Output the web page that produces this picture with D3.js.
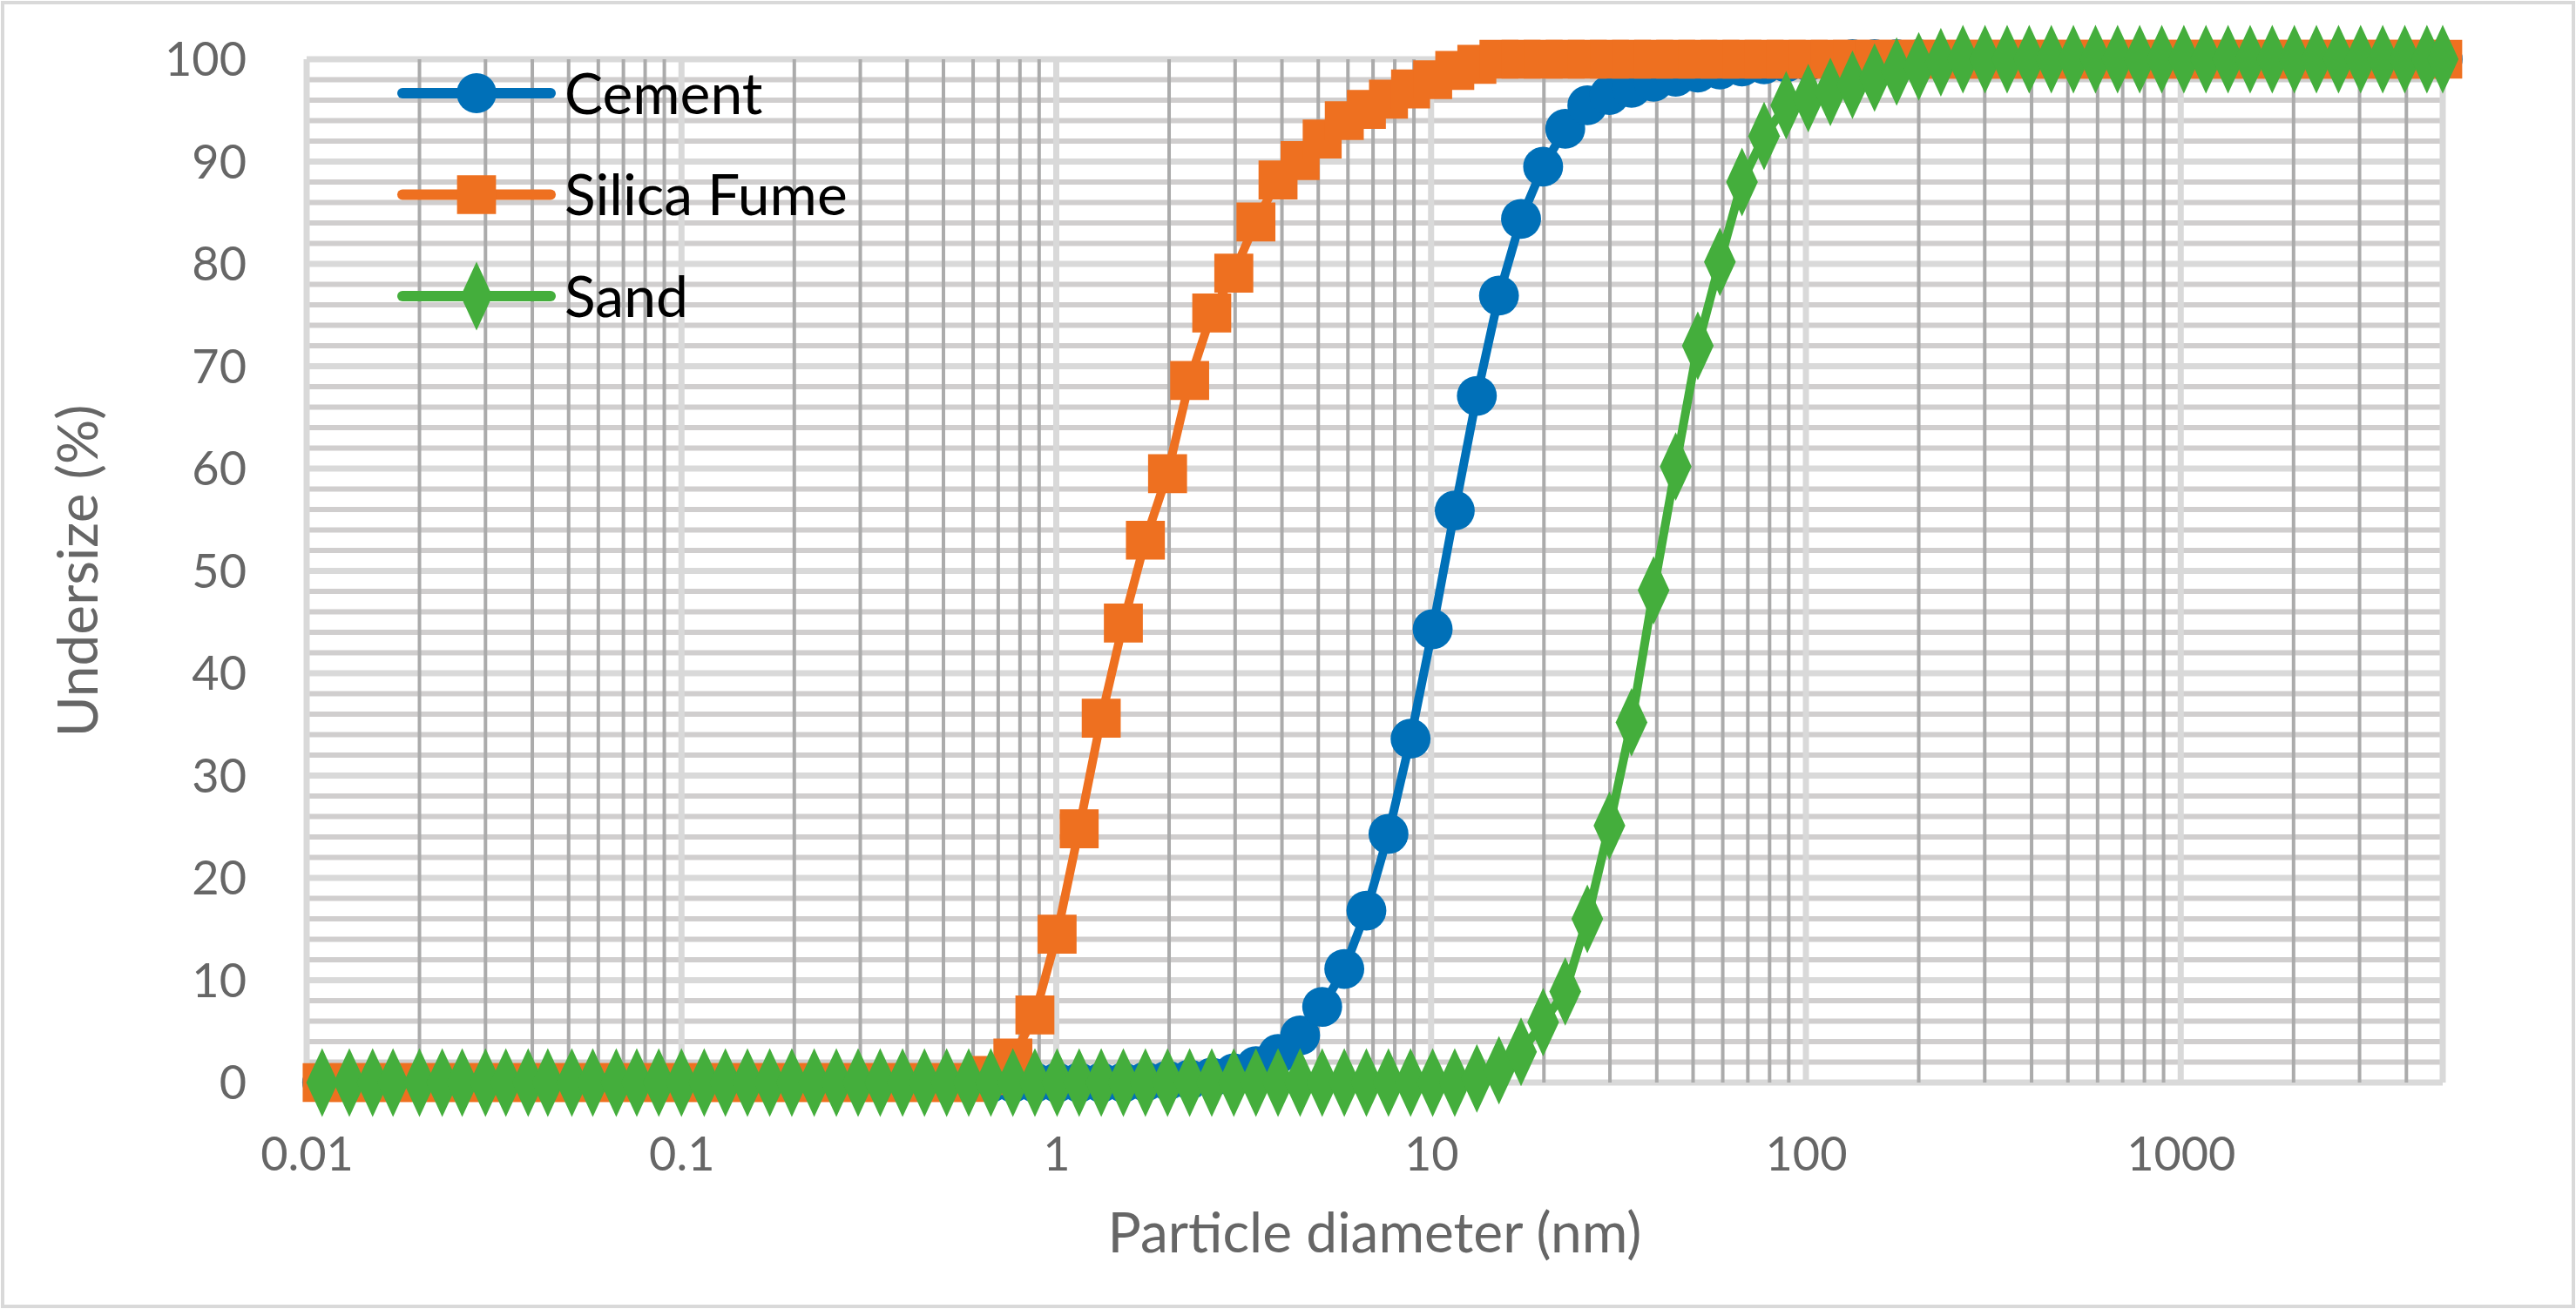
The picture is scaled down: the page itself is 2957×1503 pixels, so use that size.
<!DOCTYPE html>
<html><head><meta charset="utf-8">
<script src="https://cdn.jsdelivr.net/npm/d3@7"></script>
<style>html,body{margin:0;padding:0;background:#fff;}svg{display:block;}</style>
</head><body>
<svg id="c" width="2957" height="1503"></svg>
<script>
const diameters = [0.011,0.013,0.015,0.017,0.020,0.023,0.026,0.030,0.034,0.039,
0.044,0.051,0.058,0.067,0.076,0.087,0.100,0.115,0.131,0.150,
0.172,0.197,0.226,0.259,0.296,0.339,0.389,0.445,0.510,0.584,
0.669,0.766,0.877,1.005,1.151,1.318,1.510,1.729,1.981,2.269,
2.599,2.976,3.409,3.905,4.472,5.122,5.867,6.720,7.697,8.816,
10.097,11.565,13.246,15.172,17.377,19.904,22.797,26.111,29.907,34.255,
39.234,44.938,51.471,58.953,67.523,77.339,88.583,101.46,116.21,133.10,
152.45,174.62,200.00,229.08,262.38,300.52,344.21,394.24,451.56,517.20,
592.39,678.50,777.14,890.12,1019.5,1167.7,1337.5,1531.9,1754.6,2009.7,
2301.8,2636.5,3019.7,3458.7,3961.5,4537.4,5000];
const cement = [0,0,0,0,0,0,0,0,0,0, 0,0,0,0,0,0,0,0,0,0, 0,0,0,0,0,0,0,0,0,0, 0,0,0,0,0,0,0,
0.1,0.2,0.3,0.5,0.9,1.6,2.8,4.6,7.4,11.1,16.8,24.3,33.6,44.3,55.9,67.1,76.9,84.4,89.5,93.2,95.5,96.5,97.2,97.8,98.3,98.7,99.0,99.3,99.5,99.7,99.8,99.9,
100,100,100,100,100,100,100,100,100,100, 100,100,100,100,100,100,100,100,100,100, 100,100,100,100,100,100,100,100];
const silicaFume = [0,0,0,0,0,0,0,0,0,0, 0,0,0,0,0,0,0,0,0,0, 0,0,0,0,0,0,0,0,0,0,
0.7,2.4,6.6,14.5,24.8,35.6,44.9,53.0,59.5,68.6,75.2,79.1,84.1,88.2,90.1,92.2,94.0,95.1,96.1,97.1,98.0,98.9,99.5,
100,100,100,100,100,100,100,100,100,100, 100,100,100,100,100,100,100,100,100,100, 100,100,100,100,100,100,100,100,100,100, 100,100,100,100,100,100,100,100,100,100, 100,100,100,100];
const sand = [0,0,0,0,0,0,0,0,0,0, 0,0,0,0,0,0,0,0,0,0, 0,0,0,0,0,0,0,0,0,0, 0,0,0,0,0,0,0,0,0,0, 0,0,0,0,0,0,0,0,0,0, 0,0,
0.4,1.2,3.0,5.9,8.9,16.0,25.1,35.2,48.1,60.2,72.0,80.2,88.0,92.5,95.5,96.2,96.8,97.5,98.2,98.8,99.3,99.7,
100,100,100,100,100,100,100,100,100,100, 100,100,100,100,100,100,100,100,100,100, 100,100,100];
const seriesNames = ["Cement","Silica Fume","Sand"];
const seriesColors = ["#0070b8","#ee7020","#44ae3c"];
const xTicks = [0.01,0.1,1,10,100,1000];
const xTickLabels = ["0.01","0.1","1","10","100","1000"];
const yTicks = [0,10,20,30,40,50,60,70,80,90,100];

const svg = d3.select("#c");
const L=352, R=2804, T=68, B=1243;
const x = d3.scaleLog().domain([0.01,5000]).range([L,R]);
const y = d3.scaleLinear().domain([0,100]).range([B,T]);

svg.append("rect").attr("x",3).attr("y",3).attr("width",2951).attr("height",1497)
  .attr("fill","#fff").attr("stroke","#d9d9d9").attr("stroke-width",4);

// horizontal minor grid (every 2)
const g = svg.append("g");
g.selectAll("line.hm").data(d3.range(0,101,2).filter(v=>v%10!==0)).join("line")
  .attr("x1",L).attr("x2",R).attr("y1",d=>y(d)).attr("y2",d=>y(d))
  .attr("stroke","#d0cece").attr("stroke-width",6);
g.selectAll("line.hM").data(yTicks).join("line")
  .attr("x1",L).attr("x2",R).attr("y1",d=>y(d)).attr("y2",d=>y(d))
  .attr("stroke","#d9d9d9").attr("stroke-width",7);
// vertical minor grid
const minors=[];
for(let e=-2;e<=3;e++) for(let m=2;m<=9;m++){const v=m*Math.pow(10,e); if(v<=5000) minors.push(v);}
g.selectAll("line.vm").data(minors).join("line")
  .attr("x1",d=>x(d)).attr("x2",d=>x(d)).attr("y1",T).attr("y2",B)
  .attr("stroke","#ababab").attr("stroke-width",4);
g.selectAll("line.vM").data(xTicks.concat([5000])).join("line")
  .attr("x1",d=>x(d)).attr("x2",d=>x(d)).attr("y1",T).attr("y2",B)
  .attr("stroke","#d9d9d9").attr("stroke-width",7);

// axes labels
const xa = svg.append("g").attr("transform",`translate(0,${B+60})`)
  .call(d3.axisBottom(x).tickValues(xTicks).tickFormat((d,i)=>xTickLabels[i]).tickSize(0));
xa.select(".domain").remove();
xa.selectAll("text").attr("font-family","Lato, 'Open Sans', sans-serif").attr("font-size",54).attr("fill","#666");
const ya = svg.append("g").attr("transform",`translate(${L-66},0)`)
  .call(d3.axisLeft(y).tickValues(yTicks).tickSize(0));
ya.select(".domain").remove();
ya.selectAll("text").attr("font-family","Lato, 'Open Sans', sans-serif").attr("font-size",54).attr("fill","#666").attr("dy","0.35em");

svg.append("text").attr("x",(L+R)/2).attr("y",1438).attr("text-anchor","middle")
  .attr("font-family","Lato, 'Open Sans', sans-serif").attr("font-size",64).attr("fill","#666")
  .text("Particle diameter (nm)");
svg.append("text").attr("transform",`translate(112,${(T+B)/2}) rotate(-90)`).attr("text-anchor","middle")
  .attr("font-family","Lato, 'Open Sans', sans-serif").attr("font-size",64).attr("fill","#666")
  .text("Undersize (%)");

// series
const all=[cement,silicaFume,sand];
const shapes=[d3.symbolCircle,d3.symbolSquare,d3.symbolDiamond];
const sizes=[1650,2000,1150];
const line=d3.line().x(d=>x(d[0])).y(d=>y(d[1]));
all.forEach((vals,k)=>{
  const pts=diameters.map((d,i)=>[d,vals[i]]);
  const sg=svg.append("g");
  sg.append("path").attr("d",line(pts)).attr("fill","none").attr("stroke",seriesColors[k])
    .attr("stroke-width",10).attr("stroke-linejoin","round");
  sg.selectAll("path.m").data(pts).join("path")
    .attr("transform",d=>`translate(${x(d[0])},${y(d[1])})${k===2?" scale(1,1.25)":""}`)
    .attr("d",d3.symbol().type(shapes[k]).size(sizes[k])).attr("fill",seriesColors[k]);
});

// legend
seriesNames.forEach((n,k)=>{
  const ly=107+k*116.5;
  const lg=svg.append("g");
  lg.append("line").attr("x1",462).attr("x2",632).attr("y1",ly).attr("y2",ly)
    .attr("stroke",seriesColors[k]).attr("stroke-width",12).attr("stroke-linecap","round");
  lg.append("path").attr("transform",`translate(547,${ly})${k===2?" scale(1,1.25)":""}`)
    .attr("d",d3.symbol().type(shapes[k]).size(sizes[k])).attr("fill",seriesColors[k]);
  lg.append("text").attr("x",648).attr("y",ly).attr("dy","0.36em")
    .attr("font-family","Lato, 'Open Sans', sans-serif").attr("font-size",66).attr("fill","#000").text(n);
});
</script>
</body></html>
